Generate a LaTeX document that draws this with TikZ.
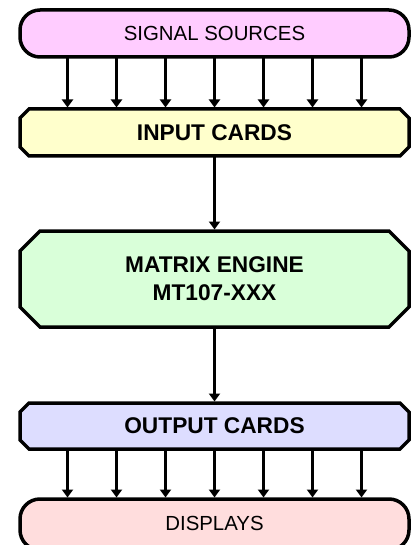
\documentclass[tikz,border=0pt]{standalone}
\usepackage{fontspec}
\setmainfont{Liberation Sans}
\usetikzlibrary{arrows.meta,backgrounds}
\definecolor{ssfill}{RGB}{255,204,255}
\definecolor{icfill}{RGB}{255,255,204}
\definecolor{mefill}{RGB}{217,255,217}
\definecolor{ocfill}{RGB}{221,221,255}
\definecolor{dsfill}{RGB}{255,221,221}
\begin{document}
\begin{tikzpicture}[x=1pt,y=-1pt,
  border/.style={draw=black,line width=3.5pt,line join=miter},
  roundbox/.style={border,rounded corners=20pt,minimum width=389pt,inner sep=0pt,outer sep=0pt},
  chambox/.style={minimum width=389pt,inner sep=0pt,outer sep=0pt},
  regtext/.style={font=\fontsize{20.4}{24}\selectfont},
  boldtext/.style={font=\fontsize{22.7}{27.7}\selectfont\bfseries},
  arr/.style={line width=3pt,-{Triangle[width=11pt,length=8pt]},shorten >=1.5pt,shorten <=1.5pt}
]
\useasboundingbox (0,0) rectangle (417,545);
\clip (0,0) rectangle (417,545);

% boxes
\node[roundbox,fill=ssfill,minimum height=47pt,regtext] (ss) at (214.5,33.5) {SIGNAL SOURCES};
\node[chambox,minimum height=47pt,boldtext] (ic) at (214.5,132.5) {INPUT CARDS};
\node[chambox,minimum height=96pt,boldtext,align=center] (me) at (214.5,279) {MATRIX ENGINE\\MT107-XXX};
\node[chambox,minimum height=46pt,boldtext] (oc) at (214.5,426) {OUTPUT CARDS};
\node[roundbox,fill=dsfill,minimum height=51pt,regtext] (ds) at (214.5,524.5) {\raisebox{1.5pt}{DISPLAYS}};

\begin{scope}[on background layer]
\foreach \n/\c/\f in {ic/9pt/icfill, me/20pt/mefill, oc/9pt/ocfill}{
  \draw[border,fill=\f]
    ([xshift=\c]\n.north west) -- ([xshift=-\c]\n.north east)
    -- ([yshift=-\c]\n.north east) -- ([yshift=\c]\n.south east)
    -- ([xshift=-\c]\n.south east) -- ([xshift=\c]\n.south west)
    -- ([yshift=\c]\n.south west) -- ([yshift=-\c]\n.north west) -- cycle;
}
\end{scope}

% connectors
\foreach \d in {-147,-98,-49,0,49,98,147}{
  \draw[arr] ([xshift=\d pt]ss.south) -- ([xshift=\d pt]ic.north);
  \draw[arr] ([xshift=\d pt]oc.south) -- ([xshift=\d pt]ds.north);
}
\draw[arr] (ic.south) -- (me.north);
\draw[arr] (me.south) -- (oc.north);
\end{tikzpicture}
\end{document}
